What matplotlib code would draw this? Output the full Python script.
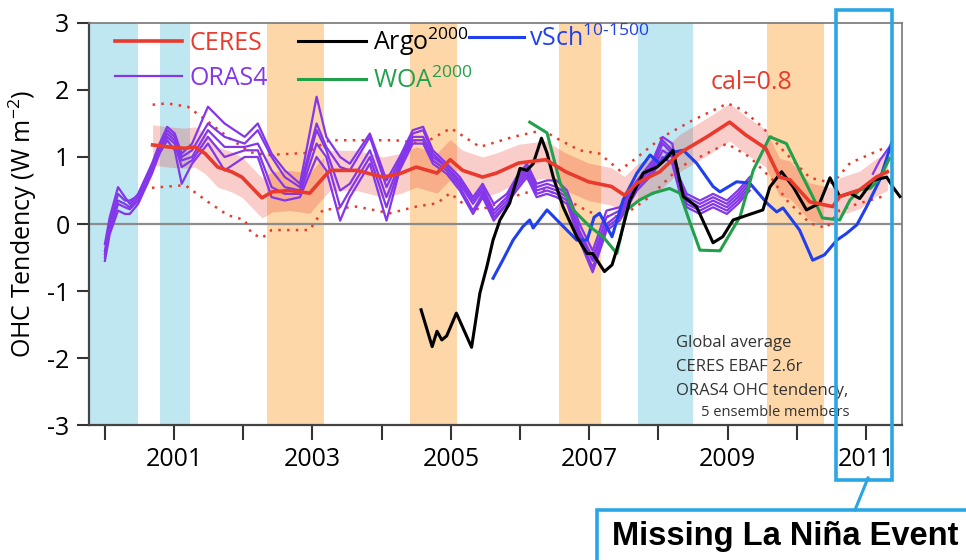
import matplotlib
matplotlib.use('Agg')
import matplotlib.pyplot as plt
import matplotlib.transforms as mtransforms
from matplotlib.patches import Rectangle
from matplotlib.lines import Line2D

plt.rcParams['font.family'] = ['Open Sans', 'DejaVu Sans']
plt.rcParams['mathtext.fontset'] = 'custom'
plt.rcParams['mathtext.rm'] = 'Open Sans'
plt.rcParams['mathtext.default'] = 'regular'
plt.rcParams['axes.unicode_minus'] = False

# ENSO periods (decimal years)
la_nina = [(1999.5, 2000.48), (2000.79, 2001.23), (2007.70, 2008.50)]
el_nino = [(2002.34, 2003.16), (2004.41, 2005.09), (2006.56, 2007.17), (2009.57, 2010.39)]

# CERES (calibrated) with shaded spread
ceres_t = [2000.69, 2000.91, 2001.15, 2001.30, 2001.45, 2001.63, 2001.83, 2001.98, 2002.12, 2002.27,
           2002.42, 2002.67, 2002.96, 2003.25, 2003.64, 2004.02, 2004.26, 2004.50, 2004.80, 2004.99,
           2005.17, 2005.46, 2005.66, 2005.98, 2006.37, 2006.66, 2006.99, 2007.32, 2007.51, 2007.69,
           2008.02, 2008.31, 2008.70, 2009.03, 2009.26, 2009.55, 2009.75, 2009.90, 2010.19, 2010.52,
           2010.62, 2010.91, 2011.15, 2011.31]
ceres = [1.18, 1.15, 1.13, 1.15, 1.05, 0.85, 0.78, 0.70, 0.55, 0.39,
         0.48, 0.50, 0.46, 0.80, 0.80, 0.70, 0.75, 0.85, 0.76, 0.96,
         0.80, 0.70, 0.76, 0.91, 0.96, 0.78, 0.63, 0.56, 0.43, 0.61,
         0.78, 1.06, 1.30, 1.52, 1.33, 1.13, 0.70, 0.66, 0.33, 0.26,
         0.41, 0.51, 0.70, 0.78]
ceres_err = [0.30, 0.30, 0.30, 0.30, 0.30, 0.30, 0.30, 0.30, 0.30, 0.30,
             0.30, 0.30, 0.30, 0.30, 0.30, 0.30, 0.30, 0.30, 0.30, 0.30,
             0.30, 0.30, 0.30, 0.28, 0.28, 0.28, 0.28, 0.28, 0.28, 0.28,
             0.28, 0.28, 0.28, 0.28, 0.28, 0.28, 0.28, 0.28, 0.28, 0.28,
             0.28, 0.28, 0.28, 0.28]

# dotted outer bounds
dot_hi_t = [2000.69, 2000.90, 2001.20, 2001.50, 2001.80, 2002.10, 2002.35, 2002.90, 2003.25, 2003.80,
            2004.20, 2004.60, 2005.00, 2005.42, 2005.90, 2006.33, 2006.58, 2006.86, 2007.15, 2007.44,
            2007.70, 2008.06, 2008.50, 2009.00, 2009.22, 2009.50, 2009.80, 2010.19, 2010.52, 2010.77,
            2011.10, 2011.30]
dot_hi = [1.78, 1.80, 1.75, 1.52, 1.28, 1.07, 1.03, 1.06, 1.25, 1.25,
          1.25, 1.20, 1.43, 1.15, 1.30, 1.40, 1.25, 1.10, 1.05, 0.80,
          1.00, 1.30, 1.55, 1.80, 1.70, 1.45, 1.10, 0.69, 0.61, 0.91,
          1.06, 1.15]
dot_lo_t = [2000.68, 2001.16, 2001.49, 2001.78, 2002.02, 2002.12, 2002.27, 2002.41, 2002.70, 2002.96,
            2003.15, 2003.64, 2004.12, 2004.50, 2004.80, 2004.99, 2005.17, 2005.42, 2005.70, 2006.04,
            2006.39, 2006.68, 2007.00, 2007.34, 2007.54, 2007.88, 2008.31, 2008.79, 2008.99, 2009.32,
            2009.65, 2009.85, 2010.19, 2010.43, 2010.62, 2010.91, 2011.24]
dot_lo = [0.54, 0.58, 0.33, 0.13, 0.06, -0.14, -0.21, -0.09, -0.09, -0.09,
          0.21, 0.26, 0.16, 0.26, 0.31, 0.46, 0.31, 0.21, 0.31, 0.46,
          0.51, 0.36, 0.18, 0.10, 0.16, 0.41, 0.85, 1.10, 1.20, 1.00,
          0.66, 0.36, 0.01, -0.06, 0.21, 0.31, 0.41]

# ORAS4, five ensemble members
oras_t = [2000.00, 2000.07, 2000.19, 2000.29, 2000.36, 2000.48, 2000.68, 2000.79, 2000.90, 2001.01,
          2001.11, 2001.26, 2001.49, 2001.73, 2002.02, 2002.21, 2002.41, 2002.60, 2002.82, 2003.06,
          2003.20, 2003.40, 2003.54, 2003.83, 2004.07, 2004.26, 2004.45, 2004.60, 2004.74, 2004.94,
          2005.13, 2005.32, 2005.46, 2005.62, 2005.81, 2005.95, 2006.10, 2006.24, 2006.39, 2006.53,
          2006.68, 2006.86, 2007.05, 2007.25, 2007.44, 2007.69, 2007.92, 2008.06, 2008.20, 2008.30,
          2008.41, 2008.60, 2008.79, 2008.99, 2009.15, 2009.32]
oras_m1 = [-0.30, 0.10, 0.55, 0.40, 0.30, 0.45, 0.90, 1.20, 1.45, 1.35,
           1.05, 1.20, 1.75, 1.50, 1.30, 1.50, 1.05, 0.80, 0.60, 1.90,
           1.30, 1.00, 0.90, 1.35, 0.65, 1.00, 1.40, 1.45, 1.10, 0.90,
           0.70, 0.40, 0.60, 0.30, 0.45, 0.70, 0.90, 0.60, 0.65, 0.65,
           0.50, 0.00, -0.40, 0.20, 0.25, 0.65, 0.95, 1.30, 1.20, 0.70,
           0.45, 0.35, 0.45, 0.35, 0.50, 0.70]
oras_m2 = [-0.40, 0.00, 0.45, 0.35, 0.35, 0.42, 0.85, 1.15, 1.40, 1.30,
           1.00, 1.10, 1.50, 1.30, 1.20, 1.40, 1.00, 0.70, 0.55, 1.50,
           1.15, 0.85, 0.80, 1.30, 0.55, 0.95, 1.35, 1.40, 1.05, 0.85,
           0.65, 0.35, 0.55, 0.20, 0.40, 0.65, 0.85, 0.55, 0.60, 0.55,
           0.45, -0.10, -0.50, 0.10, 0.20, 0.60, 0.90, 1.25, 1.10, 0.65,
           0.40, 0.30, 0.40, 0.30, 0.45, 0.65]
oras_m3 = [-0.45, -0.05, 0.35, 0.30, 0.25, 0.40, 0.85, 1.15, 1.35, 1.25,
           0.95, 1.00, 1.40, 1.15, 1.15, 1.20, 0.80, 0.55, 0.50, 1.40,
           1.10, 0.50, 0.60, 1.10, 0.40, 0.90, 1.30, 1.30, 1.00, 0.85,
           0.60, 0.30, 0.50, 0.15, 0.35, 0.60, 0.80, 0.50, 0.55, 0.50,
           0.40, -0.15, -0.55, 0.00, 0.15, 0.60, 0.85, 1.20, 1.05, 0.60,
           0.35, 0.25, 0.35, 0.25, 0.40, 0.60]
oras_m4 = [-0.50, -0.10, 0.30, 0.25, 0.22, 0.35, 0.80, 1.10, 1.30, 1.20,
           0.85, 0.95, 1.30, 1.00, 1.10, 1.10, 0.55, 0.45, 0.45, 1.20,
           1.00, 0.25, 0.50, 1.00, 0.25, 0.85, 1.25, 1.25, 0.95, 0.80,
           0.55, 0.20, 0.45, 0.10, 0.30, 0.55, 0.75, 0.45, 0.50, 0.45,
           0.35, -0.20, -0.65, -0.05, 0.10, 0.55, 0.80, 1.10, 1.00, 0.55,
           0.30, 0.20, 0.30, 0.20, 0.35, 0.55]
oras_m5 = [-0.55, -0.15, 0.20, 0.15, 0.15, 0.30, 0.75, 1.05, 1.25, 1.10,
           0.60, 0.90, 1.20, 0.80, 1.00, 1.00, 0.40, 0.35, 0.40, 1.00,
           0.80, 0.05, 0.40, 0.90, 0.05, 0.80, 1.20, 1.20, 0.90, 0.75,
           0.50, 0.15, 0.40, 0.05, 0.30, 0.50, 0.70, 0.40, 0.45, 0.40,
           0.30, -0.25, -0.72, -0.10, 0.05, 0.50, 0.75, 1.00, 0.90, 0.50,
           0.25, 0.15, 0.25, 0.15, 0.30, 0.50]
oras_end_t = [2011.10, 2011.20, 2011.34]
oras_end = [0.75, 0.95, 1.15]

# Argo 0-2000 m
argo_t = [2004.57, 2004.73, 2004.80, 2004.87, 2004.94, 2005.08, 2005.30, 2005.42, 2005.52, 2005.61,
          2005.71, 2005.85, 2006.00, 2006.10, 2006.19, 2006.31, 2006.39, 2006.48, 2006.62, 2006.82,
          2006.97, 2007.05, 2007.22, 2007.33, 2007.44, 2007.59, 2007.78, 2007.98, 2008.12, 2008.21,
          2008.36, 2008.55, 2008.79, 2008.93, 2009.08, 2009.51, 2009.61, 2009.78, 2009.95, 2010.14,
          2010.33, 2010.48, 2010.55, 2010.62, 2010.77, 2010.91, 2011.10, 2011.30, 2011.39, 2011.49]
argo = [-1.28, -1.83, -1.60, -1.73, -1.67, -1.33, -1.84, -1.03, -0.64, -0.24,
        0.06, 0.31, 0.83, 0.80, 0.90, 1.28, 1.06, 0.70, 0.26, -0.19,
        -0.44, -0.44, -0.71, -0.61, -0.24, 0.36, 0.76, 0.85, 0.98, 1.10,
        0.41, 0.26, -0.28, -0.19, 0.06, 0.21, 0.55, 0.78, 0.55, 0.21,
        0.31, 0.69, 0.55, 0.41, 0.46, 0.38, 0.65, 0.70, 0.55, 0.41]

# WOA 0-2000 m
woa_t = [2006.14, 2006.39, 2006.58, 2006.77, 2007.01, 2007.20, 2007.40, 2007.54, 2007.73, 2007.92,
         2008.16, 2008.31, 2008.46, 2008.60, 2008.89, 2009.18, 2009.37, 2009.61, 2009.85, 2010.04,
         2010.23, 2010.37, 2010.62, 2010.77, 2010.91, 2011.06, 2011.20, 2011.34]
woa = [1.52, 1.36, 0.61, 0.21, -0.04, -0.19, -0.44, 0.21, 0.36, 0.46,
       0.53, 0.46, 0.01, -0.39, -0.40, 0.11, 0.80, 1.30, 1.20, 0.80,
       0.41, 0.09, 0.06, 0.36, 0.51, 0.53, 0.68, 0.98]

# von Schuckmann 10-1500 m
vsch_t = [2005.61, 2005.75, 2005.90, 2006.04, 2006.14, 2006.19, 2006.39, 2006.58, 2006.82, 2006.97,
          2007.07, 2007.15, 2007.33, 2007.49, 2007.69, 2007.88, 2008.02, 2008.16, 2008.36, 2008.55,
          2008.79, 2008.89, 2009.13, 2009.32, 2009.57, 2009.71, 2009.80, 2010.04, 2010.23, 2010.40,
          2010.58, 2010.72, 2010.87, 2011.01, 2011.20, 2011.37]
vsch = [-0.81, -0.54, -0.24, -0.04, 0.06, -0.06, 0.21, 0.01, -0.24, -0.24,
        0.10, 0.16, -0.19, 0.36, 0.76, 1.03, 0.90, 1.06, 1.10, 0.91,
        0.56, 0.48, 0.63, 0.61, 0.31, 0.18, 0.24, -0.09, -0.54, -0.46,
        -0.24, -0.14, -0.01, 0.26, 0.66, 1.21]

red = '#ea3a2e'
purple = '#8436ea'
blue = '#2040ee'
green = '#22a04c'
boxblue = '#2aa6e4'

fig = plt.figure(figsize=(9.66, 5.6), dpi=100)
ax = fig.add_axes([0.0921, 0.241, 0.8416, 0.718])

for a, b in la_nina:
    ax.axvspan(a, b, color='#bfe7f1', lw=0, zorder=0)
for a, b in el_nino:
    ax.axvspan(a, b, color='#fdd7a8', lw=0, zorder=0)

ax.axhline(0, color='#8c8c8c', lw=1.6, zorder=1)

lo = [c - e for c, e in zip(ceres, ceres_err)]
hi = [c + e for c, e in zip(ceres, ceres_err)]
ax.fill_between(ceres_t, lo, hi, color=red, alpha=0.25, lw=0, zorder=2)
ax.plot(dot_hi_t, dot_hi, color=red, ls=(0, (1, 2.5)), lw=1.8, zorder=2)
ax.plot(dot_lo_t, dot_lo, color=red, ls=(0, (1, 2.5)), lw=1.8, zorder=2)

for m in [oras_m1, oras_m2, oras_m3, oras_m4, oras_m5]:
    ax.plot(oras_t, m, color=purple, lw=1.6, zorder=3)
ax.plot(oras_end_t, oras_end, color=purple, lw=1.6, zorder=3)

ax.plot(vsch_t, vsch, color=blue, lw=2.2, zorder=4)
ax.plot(woa_t, woa, color=green, lw=2.2, zorder=4)
ax.plot(argo_t, argo, color='black', lw=2.2, zorder=5)
ax.plot(ceres_t, ceres, color=red, lw=2.6, zorder=6)

ax.set_xlim(1999.77, 2011.52)
ax.set_ylim(-3, 3)
ax.set_yticks(range(-3, 4))
years = list(range(2000, 2012))
ax.set_xticks(years)
ax.set_xticklabels([str(y) if y % 2 == 1 else '' for y in years])
ax.tick_params(axis='y', direction='out', length=9, width=1.5, pad=5, labelsize=18, color='#333333')
ax.tick_params(axis='x', direction='out', length=11, width=1.5, pad=5, labelsize=18, color='#333333')
ax.set_ylabel('OHC Tendency (W m$^{-2}$)', fontsize=18, labelpad=6)

for side in ['left', 'bottom']:
    ax.spines[side].set_color('#444444')
    ax.spines[side].set_linewidth(1.6)
for side in ['top', 'right']:
    ax.spines[side].set_color('#777777')
    ax.spines[side].set_linewidth(1.2)

handles = [
    Line2D([], [], color=red, lw=2.6, label='CERES'),
    Line2D([], [], color=purple, lw=1.6, label='ORAS4'),
    Line2D([], [], color='black', lw=2.2, label='Argo$^{2000}$'),
    Line2D([], [], color=green, lw=2.2, label='WOA$^{2000}$'),
]
leg = ax.legend(handles=handles, ncol=2, loc='upper left', bbox_to_anchor=(0.004, 1.05),
                frameon=False, fontsize=18, handlelength=2.7, handletextpad=0.3,
                columnspacing=1.2, labelspacing=0.4, labelcolor='linecolor')
ax.add_artist(leg)
vsch_handle = Line2D([], [], color=blue, lw=2.2, label=r'vSch$^{10\text{-}1500}$')
ax.legend(handles=[vsch_handle], loc='upper left', bbox_to_anchor=(0.44, 1.05),
          frameon=False, fontsize=18, handlelength=2.2, handletextpad=0.2,
          labelcolor='linecolor')

ax.text(0.765, 0.835, 'cal=0.8', color=red, fontsize=18, transform=ax.transAxes)

note_lines = ['Global average', 'CERES EBAF 2.6r', 'ORAS4 OHC tendency,']
for i, line in enumerate(note_lines):
    ax.text(0.722, 0.204 - 0.06 * i, line, fontsize=12, color='#333333',
            transform=ax.transAxes, va='center')
ax.text(0.753, 0.032, '5 ensemble members', fontsize=10.5, color='#333333',
        transform=ax.transAxes, va='center')

# highlight box for the missing La Nina
trans = mtransforms.blended_transform_factory(ax.transData, fig.transFigure)
fig.add_artist(Rectangle((2010.56, 0.143), 0.82, 0.839, transform=trans, fill=False,
                         edgecolor=boxblue, lw=2.6, clip_on=False))
fig.add_artist(Line2D([868 / 966, 855 / 966], [1 - 478 / 560, 1 - 510 / 560],
                      color=boxblue, lw=2.2))
fig.add_artist(Rectangle((597 / 966, 0.0 - 0.05), 0.5, 1 - 510 / 560 + 0.05,
                         transform=fig.transFigure, fill=False, edgecolor=boxblue, lw=2.6))
fig.text(612 / 966, 1 - 536 / 560, 'Missing La Niña Event', fontsize=23.5, fontweight='bold',
         family=['Liberation Sans', 'DejaVu Sans'], va='center', ha='left', color='black')

fig.savefig('out.png', dpi=100)
